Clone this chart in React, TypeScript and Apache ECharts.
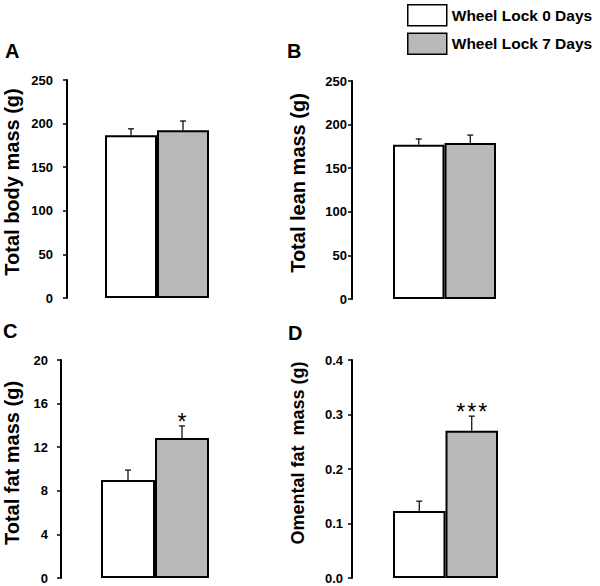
import React, { useEffect, useRef } from "react";
import * as echarts from "echarts";

const groups = ["Wheel Lock 0 Days", "Wheel Lock 7 Days"];
const panelLetters = ["A", "B", "C", "D"];
const yTitles = ["Total body mass (g)", "Total lean mass (g)", "Total fat mass (g)", "Omental fat  mass (g)"];
const yMax = [250, 250, 20, 0.4];
const yInterval = [50, 50, 4, 0.1];
const yDecimals = [0, 0, 0, 1];

const bodyMass = [186.5, 192.5];
const bodyMassSE = [7.5, 10.5];
const leanMass = [177, 179];
const leanMassSE = [6.5, 9];
const fatMass = [9.0, 12.85];
const fatMassSE = [0.9, 1.1];
const omentalFat = [0.123, 0.27];
const omentalFatSE = [0.018, 0.027];

const sigBody = ["", ""];
const sigLean = ["", ""];
const sigFat = ["", "*"];
const sigOmental = ["", "***"];

const panelValues = [bodyMass, leanMass, fatMass, omentalFat];
const panelSE = [bodyMassSE, leanMassSE, fatMassSE, omentalFatSE];
const panelSig = [sigBody, sigLean, sigFat, sigOmental];

const colors = ["#ffffff", "#b9b9b9"];
const FONT = "'Liberation Sans', Arial, sans-serif";

const layout = [
  { left: 105, top: 80, width: 104, height: 218, offset: 38, labelMargin: 14, nameGap: 45, namePad: 14, nameSize: 20, lx: 5, ly: 51 },
  { left: 393, top: 81, width: 103, height: 218, offset: 41, labelMargin: 5, nameGap: 44, namePad: 14, nameSize: 20, lx: 287, ly: 51 },
  { left: 101, top: 360, width: 108, height: 218, offset: 40, labelMargin: 13, nameGap: 39, namePad: 12, nameSize: 20, lx: 3, ly: 331 },
  { left: 393, top: 360, width: 105, height: 218, offset: 41, labelMargin: 9, nameGap: 45, namePad: 32, nameSize: 18, lx: 288, ly: 333 },
];

export default function App() {
  const ref = useRef<HTMLDivElement>(null);
  useEffect(() => {
    if (!ref.current) return;
    const chart = echarts.init(ref.current, null, { renderer: "svg" });
    const grid: any[] = [];
    const xAxis: any[] = [];
    const yAxis: any[] = [];
    const series: any[] = [];
    const graphic: any[] = [];
    layout.forEach((L, g) => {
      grid.push({ left: L.left, top: L.top, width: L.width, height: L.height });
      xAxis.push({ type: "category", gridIndex: g, data: groups, show: false });
      yAxis.push({
        type: "value",
        gridIndex: g,
        min: 0,
        max: yMax[g],
        interval: yInterval[g],
        offset: L.offset,
        name: yTitles[g],
        nameLocation: "middle",
        nameRotate: 90,
        nameGap: L.nameGap,
        nameTextStyle: { fontFamily: FONT, fontWeight: "bold", fontSize: L.nameSize, color: "#000", padding: [0, 0, 0, L.namePad] },
        axisLine: { show: true, lineStyle: { color: "#000", width: 2 } },
        axisTick: { show: true, inside: false, length: 4, lineStyle: { color: "#000", width: 1.5 } },
        axisLabel: {
          margin: L.labelMargin,
          fontFamily: FONT,
          fontWeight: "bold",
          fontSize: 13,
          color: "#000",
          formatter: (v: number) => v.toFixed(yDecimals[g]),
        },
        splitLine: { show: false },
      });
      const vals = panelValues[g];
      groups.forEach((name, j) => {
        series.push({
          type: "bar",
          name,
          xAxisIndex: g,
          yAxisIndex: g,
          data: vals.map((v, i) => (i === j ? v : "-")),
          barWidth: "100%",
          barGap: "-100%",
          itemStyle: { color: colors[j], borderColor: "#000", borderWidth: 2 },
        });
      });
      const se = panelSE[g];
      const sig = panelSig[g];
      series.push({
        type: "custom",
        xAxisIndex: g,
        yAxisIndex: g,
        z: 5,
        clip: false,
        data: vals.map((v, i) => [i, v, se[i]]),
        renderItem: (params: any, api: any) => {
          const cat = api.value(0);
          const v = api.value(1);
          const e = api.value(2);
          const p0 = api.coord([cat, v]);
          const p1 = api.coord([cat, v + e]);
          const children: any[] = [
            { type: "line", shape: { x1: p0[0], y1: p0[1], x2: p1[0], y2: p1[1] }, style: { stroke: "#000", lineWidth: 1.2 } },
            { type: "line", shape: { x1: p1[0] - 3, y1: p1[1], x2: p1[0] + 3, y2: p1[1] }, style: { stroke: "#000", lineWidth: 1.2 } },
          ];
          const n = (sig[params.dataIndex] || "").length;
          for (let k = 0; k < n; k++) {
            children.push({
              type: "text",
              x: p1[0] + (k - (n - 1) / 2) * 11,
              y: p1[1] - 4,
              style: { text: "*", fontSize: 23, fontFamily: FONT, fill: "#000", align: "center", verticalAlign: "middle" },
            });
          }
          return { type: "group", children };
        },
      });
      graphic.push({
        type: "text",
        left: L.lx,
        top: L.ly - 10,
        style: { text: panelLetters[g], fontFamily: FONT, fontWeight: "bold", fontSize: 20, fill: "#000" },
      });
    });
    chart.setOption({
      animation: false,
      backgroundColor: "#fff",
      legend: {
        data: groups,
        orient: "vertical",
        left: 407,
        top: 4,
        padding: 0,
        itemWidth: 39,
        itemHeight: 21,
        itemGap: 6,
        icon: "rect",
        selectedMode: false,
        itemStyle: { borderColor: "#000", borderWidth: 1.5 },
        textStyle: { fontFamily: FONT, fontWeight: "bold", fontSize: 15.5, color: "#000" },
      },
      grid,
      xAxis,
      yAxis,
      series,
      graphic,
    });
    return () => chart.dispose();
  }, []);
  return <div ref={ref} style={{ position: "fixed", left: 0, top: 0, width: 600, height: 586 }} />;
}
